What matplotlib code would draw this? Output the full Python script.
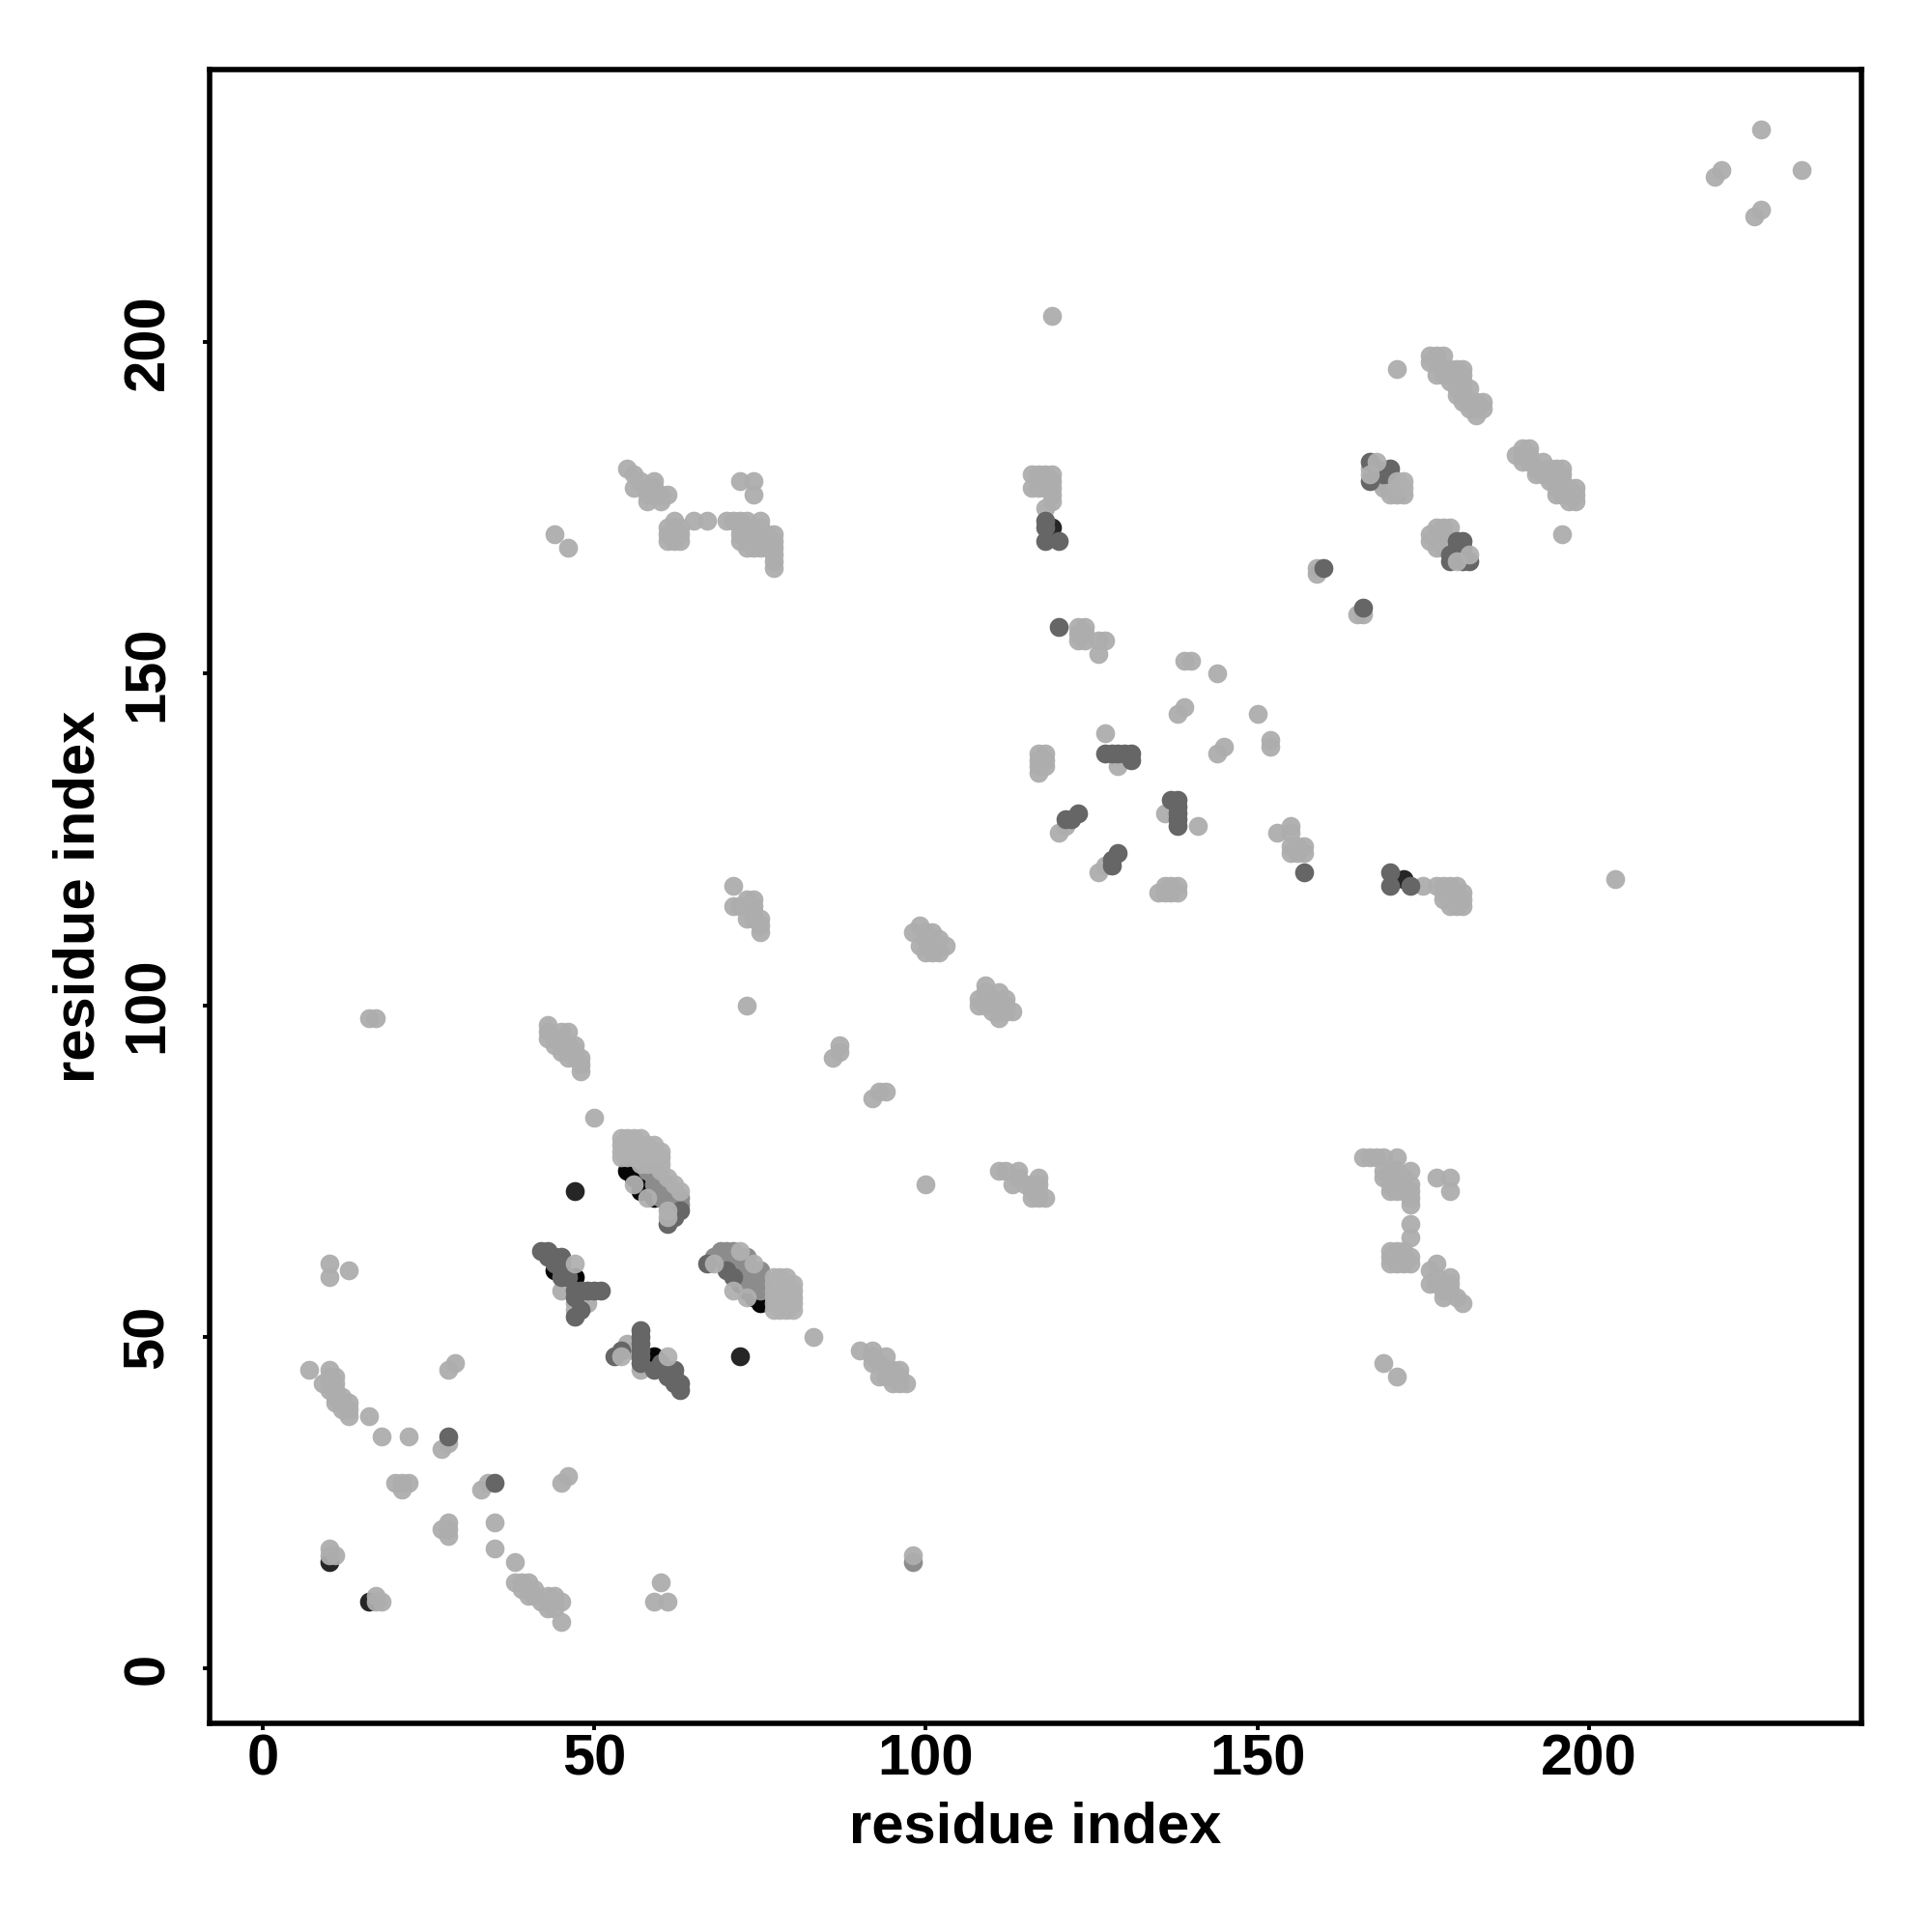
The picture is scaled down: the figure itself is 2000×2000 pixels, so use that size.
import numpy as np
import matplotlib
matplotlib.use('Agg')
import matplotlib.pyplot as plt

plt.rcParams['font.family'] = ['Liberation Sans', 'DejaVu Sans']
plt.rcParams['font.weight'] = 'bold'

# contacts (i, j), one list per shade
light_under = [(45,57),(46,58),(47,55),(55,49),(56,48),(57,45),(58,46),(47,54),(49,55)]

black = [(55,75),(56,74),(57,73),(57,72),(58,72),(59,71),(44,60),(47,59),(59,47),(61,45),(72,58),(73,57),(74,56),(75,55)]

dark = [(47,72),(72,47),(119,172),(172,119),(10,16),(16,10)]

medium_under = [(98,16)]

mid = [(61,67),(62,68),(63,69),(42,63),(43,63),(44,62),(45,62),(43,62),(44,61),(45,61),(45,60),(45,59),(46,59),
    (47,57),(48,57),(49,57),(50,57),(51,57),(47,56),(48,54),(47,53),(53,47),(54,48),
    (57,51),(57,50),(57,49),(57,48),(57,47),(57,46),(59,45),(60,46),(62,45),(62,44),(63,43),(63,42),(62,43),(61,44),
    (67,61),(70,60),(71,59),(28,35),(35,28),(167,182),(167,179),(168,181),(169,180),(170,181),(170,180),
    (180,170),(181,170),(180,169),(181,169),(179,168),(179,167),(182,167),(181,168),(181,167),(160,166),(166,160),
    (120,157),(127,138),(128,138),(129,138),(130,138),(131,138),(131,137),(123,129),(122,128),(121,128),
    (137,131),(138,131),(138,130),(138,129),(138,128),(138,127),(129,123),(128,122),(128,121),(157,120),
    (170,120),(170,118),(173,118),(118,173),(118,172),(118,170),(120,170)]

medium = [(58,75),(59,74),(60,73),(61,72),(62,71),(63,70),(59,73),(60,72),(61,71),(62,70),(60,71),(61,70),(62,69),
    (59,75),(60,74),(61,73),(62,72),(63,71),(68,62),(69,63),(70,63),(71,63),(73,62),(75,60),
    (69,62),(70,62),(71,62),(72,62),(70,61),(71,61),(72,61),(73,61),(71,60),(72,60),(73,60),(74,60),
    (72,59),(73,59),(74,59),(75,59),(73,58),(74,58),(75,58),(75,57)]

light = [
    # top right and upper band
    (226,232),(219,225),(220,226),(232,226),(225,219),(226,220),(119,204),(171,196),
    (176,198),(177,198),(178,198),(176,197),(177,197),(177,195),(178,195),(178,196),(179,196),(180,196),(181,196),
    (179,195),(180,195),(181,195),(179,194),(180,193),(181,194),(181,193),(182,193),(180,192),(181,192),(182,191),
    (181,191),(182,190),(183,190),(184,191),(184,190),(183,189),(183,191),
    (189,183),(190,184),(191,184),(190,183),(191,183),(190,182),(191,182),(192,181),(193,182),(194,181),(192,180),
    (193,180),(194,180),(195,181),(196,181),(195,180),(196,180),(194,179),(195,179),(196,179),(195,178),(196,178),
    (197,178),(198,178),(195,177),(196,177),(197,177),(198,177),(197,176),(198,176),(196,171),
    (167,181),(168,180),(169,179),(169,178),(170,178),(170,177),(171,177),(172,177),(168,179),
    (177,172),(178,172),(179,172),(176,171),(177,171),(178,171),(176,170),(177,170),(178,170),(177,169),(178,169),
    (179,169),(180,168),
    (159,166),(159,165),(165,159),(166,159),
    # middle
    (123,157),(124,157),(123,156),(124,156),(123,155),(124,155),(126,155),(127,155),(126,153),
    (139,152),(140,152),(144,150),(139,145),(138,144),(150,144),(152,140),(152,139),(145,139),(144,138),(127,141),
    (129,136),(117,138),(118,138),(117,137),(118,137),(117,136),(118,136),(117,135),(120,126),(121,127),(136,129),
    (141,127),(126,120),(127,121),(153,126),(155,127),(155,126),(155,124),(155,123),(157,124),(157,123),(156,123),
    (156,124),(135,117),(136,118),(137,118),(138,118),(138,117),(136,117),(137,117),
    (175,118),(177,118),(178,118),(179,118),(180,118),(178,117),(180,115),(178,116),(179,116),(180,117),(180,116),
    (179,115),(181,115),(181,116),(181,117),(204,119),
    (116,180),(117,180),(118,180),(119,180),(116,178),(117,179),(118,179),(119,179),(117,178),(118,178),(119,178),
    (119,177),(119,176),(118,175),
    # upper left
    (44,171),(46,169),(55,181),(56,180),(56,178),(57,179),(59,179),(59,178),(58,178),(58,176),(60,176),(61,177),
    (60,177),(58,177),(59,177),(62,173),(61,172),(63,172),(61,170),(62,170),(63,170),(61,171),(62,171),(63,171),
    (62,172),(65,173),(67,173),(70,173),(71,173),(72,173),(73,173),(75,173),(72,179),(74,179),(74,177),(77,171),
    (72,172),(72,171),(72,170),(73,171),(73,170),(73,169),(74,172),(74,171),(74,170),(75,172),(75,171),(75,170),
    (75,169),(76,170),(76,169),(77,170),(77,169),(77,168),(77,167),(77,166),(74,169),(76,171),
    # lower right
    (166,77),(167,77),(168,77),(169,77),(171,77),(173,75),(169,75),(170,75),(171,75),(169,74),(170,72),(171,73),
    (170,73),(171,74),(171,72),(172,72),(172,73),(172,74),(173,73),(173,72),(173,71),(173,70),(173,67),(173,65),
    (177,74),(179,74),(179,72),(170,63),(170,62),(170,61),(171,63),(171,62),(171,61),(172,61),(172,62),(173,62),
    (173,61),(172,63),(177,61),(176,60),(176,58),(177,59),(177,58),(178,58),(179,59),(178,56),(179,57),(179,58),
    (178,57),(180,56),(181,55),(169,46),(171,44),
    (100,73),(111,75),(112,75),(114,75),(113,73),(114,74),(115,73),(116,73),(117,74),(117,73),(116,71),(117,71),
    (117,72),(116,72),(118,71),
    # 100 region
    (98,111),(99,112),(100,111),(101,111),(100,110),(101,110),(102,110),(103,109),(102,108),(101,108),(100,108),(99,109),
    (109,102),(108,101),(109,103),(111,102),(112,101),(113,99),(111,98),(110,99),(109,100),(108,100),(110,101),
    (111,100),(112,100),(112,99),(111,99),
    (71,118),(71,115),(73,116),(74,116),(72,115),(74,115),(73,113),(74,114),(75,113),(75,112),(75,111),(74,113),(73,100),
    (16,98),(17,98),(43,97),(43,96),(44,95),(43,95),(45,96),(46,96),(44,94),(45,94),(45,93),(46,94),(47,94),(46,93),
    (46,92),(48,92),(47,92),(48,91),(48,90),(47,93),
    (87,94),(87,93),(86,92),(92,86),(93,87),(94,87),(50,83),(83,50),
    (90,48),(92,48),(92,47),(93,46),(94,47),(94,45),(95,45),(93,44),(96,45),(96,44),(95,43),(96,43),(97,43),(94,44),(92,46),
    (98,17),
    # lower left
    (10,61),(10,59),(13,60),(7,45),(10,45),(11,44),(9,43),(10,43),(11,43),(10,44),(10,42),(11,42),(12,41),(11,41),
    (12,40),(13,40),(13,38),(11,40),(12,39),(13,39),(16,38),(18,35),(22,35),(28,34),(27,33),(29,46),(28,45),
    (20,28),(21,28),(22,28),(21,27),(33,27),(34,28),(45,28),(46,29),(28,22),(27,21),(28,20),(28,21),(35,22),(35,18),
    (38,16),(38,13),(39,13),(40,13),(41,12),(39,12),(40,11),(41,11),(40,12),(42,10),(43,11),(44,11),(45,10),(43,9),
    (44,10),(44,9),(43,10),(45,7),(60,13),(59,10),(61,10),(10,18),(11,17),(10,17),(17,11),(18,10),(17,10)]

# light contacts lying over the darker bands
top_light = [(54,80),(55,80),(56,80),(57,80),(54,79),(55,79),(56,79),(57,79),(54,78),(55,78),(56,78),(57,78),(54,77),(55,77),
    (56,77),(57,77),(58,79),(59,79),(58,78),(59,78),(60,78),(60,77),(59,77),(58,77),(57,76),(58,76),(59,76),(60,76),
    (60,75),(61,74),(62,73),(63,72),(61,69),(47,61),(72,63),(74,61),(56,73),(58,71),(61,68),(68,61),(71,57),(73,56),
    (54,47),(61,47),(168,182),(167,180),(171,179),(172,179),(172,178),(171,178),(182,168),(180,167),
    (77,59),(78,59),(79,59),(77,58),(78,58),(79,58),(80,58),(77,57),(78,57),(79,57),(80,57),(77,56),(78,56),(79,56),
    (80,56),(77,55),(78,55),(79,55),(80,55),(77,54),(78,54),(79,54),(80,54)]

xticks = [0, 50, 100, 150, 200]
yticks = [0, 50, 100, 150, 200]

shades = [(light_under, '#b0b0b0', 1.0), (dark, '#262626', 1.0), (black, '#050505', 1.0), (medium_under, '#8c8c8c', 1.0),
          (light, '#adadad', 0.95), (medium, '#8c8c8c', 1.0), (mid, '#666666', 1.0), (top_light, '#b0b0b0', 0.95)]

fig = plt.figure(figsize=(10, 10), dpi=200)
ax = fig.add_axes([217/2000, 1 - 1784/2000, (1927-217)/2000, (1784-72)/2000])

for pts, col, a in shades:
    pts = np.array(pts)
    ax.scatter(pts[:, 0], pts[:, 1], s=50, c=col, alpha=a, linewidths=0)

ax.set_xlim(-8, 241.1)
ax.set_ylim(-8.3, 241.1)
ax.set_xticks(xticks)
ax.set_yticks(yticks)
ax.tick_params(axis='both', labelsize=21.5, width=1.4, length=2.5)
ax.tick_params(axis='x', pad=1.2)
ax.tick_params(axis='y', pad=10.5)
for lab in ax.get_yticklabels():
    lab.set_rotation(90)
    lab.set_va('center')
for s in ax.spines.values():
    s.set_linewidth(2.0)

ax.set_xlabel('residue index', fontsize=21.5, fontweight='bold', labelpad=5.5)
ax.set_ylabel('residue index', fontsize=21.5, fontweight='bold', labelpad=6)

plt.savefig('out.png', dpi=200)
